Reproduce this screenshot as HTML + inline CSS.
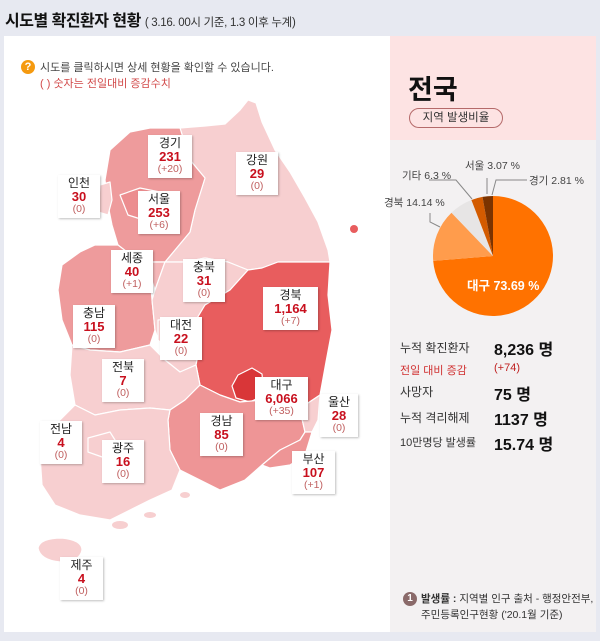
<!DOCTYPE html>
<html><head><meta charset="utf-8">
<style>
*{margin:0;padding:0;box-sizing:border-box}
body{width:600px;height:641px;background:#e7e9f1;font-family:"Liberation Sans","Noto Sans CJK KR",sans-serif;position:relative;overflow:hidden;color:#222}
.abs{position:absolute}
.card{left:4px;top:36px;width:386px;height:596px;background:#fff}
.rp{left:390px;top:36px;width:206px;height:596px;background:#f3f1f2}
.rpt{left:390px;top:36px;width:206px;height:104px;background:#fde3e3}
.lb{position:absolute;background:#fff;text-align:center;box-shadow:1px 1px 2px rgba(0,0,0,.25);line-height:13px;padding-top:2px}
.lb b{display:block;font-size:12px;color:#222;font-weight:normal}
.lb i{display:block;font-style:normal;font-weight:bold;font-size:13px;color:#c8101e}
.lb s{display:block;text-decoration:none;font-size:10.5px;color:#c06060}
.st{position:absolute;left:400px;font-size:12px;color:#333}
.sv{position:absolute;left:494px;font-size:16px;font-weight:bold;color:#111}
</style></head><body>
<div class="abs" style="left:5px;top:7px;font-size:16px;font-weight:bold;color:#111;letter-spacing:-0.5px">시도별 확진환자 현황 <span style="font-size:11.5px;font-weight:normal;color:#333;letter-spacing:-0.3px">( 3.16. 00시 기준, 1.3 이후 누계)</span></div>
<div class="abs card"></div>
<div class="abs rp"></div>
<div class="abs rpt"></div>
<div class="abs" style="left:21px;top:60px;width:14px;height:14px;border-radius:7px;background:#f59a10;color:#fff;font-size:11px;font-weight:bold;text-align:center;line-height:14px">?</div>
<div class="abs" style="left:40px;top:59px;font-size:11px;color:#444">시도를 클릭하시면 상세 현황을 확인할 수 있습니다.</div>
<div class="abs" style="left:40px;top:75px;font-size:11px;color:#d24a4a">( ) 숫자는 전일대비 증감수치</div>

<svg class="abs" style="left:0;top:0" width="600" height="641">
<g stroke="#fff" stroke-width="1.2" stroke-linejoin="round">
<path fill="#f7cfd0" d="M180,128 L205,126 L225,124 L240,110 L248,100 L256,103 L262,122 L275,150 L290,172 L305,198 L318,222 L328,250 L330,262 L300,262 L278,262 L262,268 L248,270 L228,262 L205,258 L185,262 L165,262 L190,232 L195,210 L205,178 L190,160 Z"/>
<path fill="#ee9b9c" d="M110,150 L130,132 L150,128 L180,128 L190,160 L205,178 L195,210 L190,232 L165,262 L140,262 L118,245 L112,225 L108,205 L105,180 Z"/>
<path fill="#f7cfd0" d="M100,185 L110,182 L112,200 L108,215 L98,212 Z"/>
<path fill="#ec8d8f" d="M120,195 L140,188 L160,192 L165,212 L150,222 L128,215 Z"/>
<path fill="#ee9b9c" d="M62,265 L80,252 L95,245 L118,245 L140,262 L150,275 L152,300 L155,330 L150,345 L120,352 L90,350 L72,345 L62,320 L58,290 Z"/>
<path fill="#f4b7b8" d="M140,262 L165,262 L155,290 L150,275 Z"/>
<path fill="#f7cfd0" d="M165,262 L185,262 L205,258 L228,262 L248,270 L230,290 L205,305 L196,320 L200,345 L196,365 L180,372 L165,360 L155,330 L152,300 L155,290 Z"/>
<path fill="#f7cfd0" d="M158,320 L178,318 L185,340 L168,350 L158,340 Z"/>
<path fill="#e85d5e" d="M248,270 L262,268 L278,262 L330,262 L328,295 L332,330 L326,362 L320,395 L305,405 L285,402 L262,400 L240,402 L220,395 L200,385 L196,365 L200,345 L196,320 L205,305 L230,290 Z"/>
<path fill="#d93638" d="M238,375 L252,368 L262,374 L264,395 L250,402 L236,398 L232,386 Z"/>
<path fill="#f7cfd0" d="M72,345 L90,350 L120,352 L150,345 L165,360 L180,372 L196,365 L200,385 L185,400 L170,410 L150,408 L120,410 L95,415 L75,405 L70,375 Z"/>
<path fill="#ee9596" d="M200,385 L220,395 L240,402 L262,400 L285,402 L300,410 L305,432 L300,440 L280,450 L262,465 L245,480 L220,490 L200,480 L180,470 L170,450 L168,420 L170,410 L185,400 Z"/>
<path fill="#f7cfd0" d="M300,410 L305,405 L320,395 L318,420 L312,432 L305,432 Z"/>
<path fill="#ee9596" d="M262,465 L280,450 L300,440 L305,432 L312,432 L305,455 L290,465 L270,468 Z"/>
<path fill="#f7cfd0" d="M75,405 L95,415 L120,410 L150,408 L170,410 L168,420 L170,450 L180,470 L172,490 L150,500 L130,510 L110,520 L80,515 L55,505 L42,485 L40,455 L50,430 L65,415 Z"/>
<path fill="#f7cfd0" d="M88,438 L110,432 L120,448 L105,458 L88,452 Z"/>
<path fill="#f7cfd0" d="M38,548 Q40,538 62,538 Q82,540 82,550 Q80,562 60,562 Q40,560 38,548 Z"/>
</g>
<g fill="#f7cfd0"><ellipse cx="120" cy="525" rx="8" ry="4"/><ellipse cx="150" cy="515" rx="6" ry="3"/><ellipse cx="185" cy="495" rx="5" ry="3"/></g>
<circle cx="354" cy="229" r="4" fill="#e85d5e"/>
<g>
<path fill="#ff7200" d="M493,256 L493,196 A60,60 0 1 1 433.2,260.9 Z"/>
<path fill="#ff9c4c" d="M493,256 L433.2,260.9 A60,60 0 0 1 451.5,212.7 Z"/>
<path fill="#e7e5e5" d="M493,256 L451.5,212.7 A60,60 0 0 1 471.4,200 Z"/>
<path fill="#d35b00" d="M493,256 L471.4,200 A60,60 0 0 1 482.5,196.9 Z"/>
<path fill="#7b3300" d="M493,256 L482.5,196.9 A60,60 0 0 1 493,196 Z"/>
</g>
<g stroke="#888" stroke-width="1" fill="none">
<polyline points="429,180 456,180 472,199"/>
<polyline points="487,178 487,194"/>
<polyline points="527,180 496,180 492,195"/>
<polyline points="430,213 430,222 440,227"/>
</g>
</svg>

<div class="lb" style="left:148px;top:135px;width:44px;height:43px"><b>경기</b><i>231</i><s>(+20)</s></div>
<div class="lb" style="left:236px;top:152px;width:42px;height:43px"><b>강원</b><i>29</i><s>(0)</s></div>
<div class="lb" style="left:58px;top:175px;width:42px;height:43px"><b>인천</b><i>30</i><s>(0)</s></div>
<div class="lb" style="left:138px;top:191px;width:42px;height:43px"><b>서울</b><i>253</i><s>(+6)</s></div>
<div class="lb" style="left:111px;top:250px;width:42px;height:43px"><b>세종</b><i>40</i><s>(+1)</s></div>
<div class="lb" style="left:183px;top:259px;width:42px;height:43px"><b>충북</b><i>31</i><s>(0)</s></div>
<div class="lb" style="left:263px;top:287px;width:55px;height:43px"><b>경북</b><i>1,164</i><s>(+7)</s></div>
<div class="lb" style="left:73px;top:305px;width:42px;height:43px"><b>충남</b><i>115</i><s>(0)</s></div>
<div class="lb" style="left:160px;top:317px;width:42px;height:43px"><b>대전</b><i>22</i><s>(0)</s></div>
<div class="lb" style="left:102px;top:359px;width:42px;height:43px"><b>전북</b><i>7</i><s>(0)</s></div>
<div class="lb" style="left:255px;top:377px;width:53px;height:43px"><b>대구</b><i>6,066</i><s>(+35)</s></div>
<div class="lb" style="left:320px;top:394px;width:38px;height:43px"><b>울산</b><i>28</i><s>(0)</s></div>
<div class="lb" style="left:200px;top:413px;width:43px;height:43px"><b>경남</b><i>85</i><s>(0)</s></div>
<div class="lb" style="left:40px;top:421px;width:42px;height:43px"><b>전남</b><i>4</i><s>(0)</s></div>
<div class="lb" style="left:102px;top:440px;width:42px;height:43px"><b>광주</b><i>16</i><s>(0)</s></div>
<div class="lb" style="left:292px;top:451px;width:43px;height:43px"><b>부산</b><i>107</i><s>(+1)</s></div>
<div class="lb" style="left:60px;top:557px;width:43px;height:43px"><b>제주</b><i>4</i><s>(0)</s></div>

<div class="abs" style="left:408px;top:68px;font-size:27px;font-weight:bold;color:#111">전국</div>
<div class="abs" style="left:409px;top:108px;width:94px;height:20px;border:1px solid #b56a6a;border-radius:10px;font-size:11.5px;text-align:center;line-height:18px;color:#333">지역 발생비율</div>

<div class="abs" style="left:402px;top:168px;font-size:10.5px;color:#444">기타 6.3 %</div>
<div class="abs" style="left:465px;top:158px;font-size:10.5px;color:#444">서울 3.07 %</div>
<div class="abs" style="left:529px;top:173px;font-size:10.5px;color:#444">경기 2.81 %</div>
<div class="abs" style="left:384px;top:195px;font-size:10.5px;color:#444">경북 14.14 %</div>
<div class="abs" style="left:467px;top:275px;font-size:12.5px;font-weight:bold;color:#fff">대구 73.69 %</div>

<div class="st" style="top:339px">누적 확진환자</div><div class="sv" style="top:336px">8,236 명</div>
<div class="st" style="top:362px;color:#d03030;font-size:11px">전일 대비 증감</div><div class="abs" style="left:494px;top:362px;font-size:11px;color:#c02020">(+74)</div>
<div class="st" style="top:383px">사망자</div><div class="sv" style="top:381px">75 명</div>
<div class="st" style="top:409px">누적 격리해제</div><div class="sv" style="top:406px">1137 명</div>
<div class="st" style="top:434px;font-size:11px">10만명당 발생률</div><div class="sv" style="top:431px">15.74 명</div>

<div class="abs" style="left:403px;top:592px;width:14px;height:14px;border-radius:7px;background:#8a6a6a;color:#fff;font-size:10px;text-align:center;line-height:14px;font-weight:bold">1</div>
<div class="abs" style="left:421px;top:591px;font-size:10.5px;color:#333"><b>발생률 :</b> 지역별 인구 출처 - 행정안전부,</div>
<div class="abs" style="left:421px;top:607px;font-size:10.5px;color:#333">주민등록인구현황 ('20.1월 기준)</div>
</body></html>
